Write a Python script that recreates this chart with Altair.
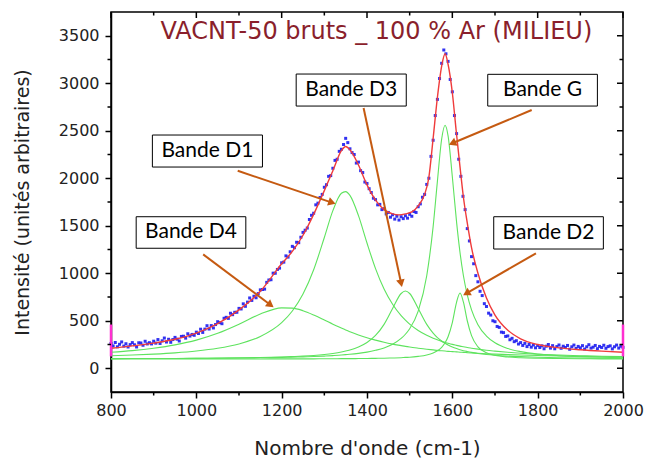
import altair as alt
import pandas as pd

# ---------------- data ----------------
# fitted Lorentzian components (total incl. baseline), on a common wavenumber grid
comp_x = [800, 850, 900, 950, 1000, 1050, 1100, 1150, 1200,
          1225, 1250, 1275, 1300, 1320, 1340, 1350, 1360,
          1380, 1400, 1420, 1440, 1460, 1480, 1490, 1500,
          1520, 1540, 1555, 1565, 1575, 1583, 1590, 1600, 1610, 1618, 1626, 1635, 1645, 1660,
          1680, 1700, 1730, 1760, 1800, 1850, 1900, 1950, 2000]
band_d4 = [169, 186, 211, 246, 296, 368, 464, 571, 636,
           633, 606, 561, 508, 464, 423, 403, 385,
           351, 321, 296, 273, 254, 238, 230, 223,
           211, 200, 193, 188, 184, 181, 178, 175, 172, 169, 167, 164, 161, 158,
           153, 149, 144, 139, 134, 129, 125, 121, 118]
band_d1 = [132, 139, 149, 162, 181, 210, 256, 334, 480,
           603, 781, 1037, 1376, 1659, 1842, 1859, 1819,
           1606, 1318, 1049, 834, 673, 553, 506, 464,
           398, 347, 316, 299, 283, 272, 263, 251, 241, 233, 226, 218, 211, 201,
           189, 180, 168, 158, 148, 139, 132, 126, 122]
band_d3 = [101, 102, 102, 103, 105, 107, 109, 113, 119,
           123, 128, 135, 145, 156, 171, 181, 193,
           224, 271, 345, 462, 629, 787, 813, 787,
           629, 462, 370, 323, 287, 263, 245, 224, 207, 195, 185, 176, 167, 156,
           145, 137, 128, 122, 116, 111, 108, 106, 104]
band_g = [101, 102, 102, 103, 104, 106, 108, 110, 114,
          117, 120, 123, 128, 133, 139, 143, 147,
          157, 170, 189, 214, 253, 314, 358, 416,
          602, 974, 1491, 1967, 2413, 2558, 2446, 2016, 1535, 1218, 974, 773, 615, 459,
          339, 268, 208, 175, 149, 132, 122, 116, 111]
band_d2 = [97, 97, 98, 98, 98, 98, 98, 98, 99,
           99, 99, 99, 100, 100, 101, 101, 101,
           102, 103, 104, 106, 108, 111, 114, 116,
           125, 140, 161, 184, 221, 268, 332, 481, 696, 792, 696, 500, 343, 225,
           163, 136, 118, 110, 105, 102, 100, 99, 99]

# cumulative fit (red)
red_x = [800, 850, 900, 950, 1000, 1050, 1100, 1150, 1200,
         1225, 1250, 1275, 1300, 1320, 1340, 1350, 1360,
         1380, 1400, 1420, 1440, 1460, 1475, 1490, 1505, 1520,
         1535, 1545, 1555, 1565, 1575, 1583, 1590, 1600, 1609, 1618, 1626, 1635, 1645, 1660,
         1680, 1700, 1730, 1760, 1800, 1850, 1900, 1950, 2000]
red_y = [210, 235, 265, 305, 370, 470, 615, 810, 1100,
         1230, 1400, 1620, 1870, 2080, 2290, 2335, 2300,
         2140, 1930, 1770, 1670, 1625, 1615, 1625, 1645, 1710,
         1830, 2010, 2420, 2850, 3180, 3310, 3200, 2900, 2500, 2120, 1800, 1530, 1270, 1000,
         740, 560, 400, 310, 250, 215, 195, 180, 168]

# measured spectrum (blue), every 5 cm-1 from 800 to 2000
blue_y = [
    260, 235, 271, 226, 252, 277, 233, 258, 224, 249,
    270, 247, 224, 268, 266, 242, 284, 256, 269, 256,
    285, 264, 302, 261, 289, 318, 276, 305, 273, 302,
    325, 306, 287, 335, 337, 317, 363, 339, 356, 347,
    380, 366, 411, 377, 412, 448, 413, 449, 424, 460,
    490, 480, 469, 526, 536, 525, 579, 564, 589, 589,
    630, 624, 678, 652, 696, 740, 714, 758, 742, 786,
    825, 829, 833, 904, 929, 932, 1001, 1000, 1040, 1054,
    1110, 1117, 1183, 1170, 1226, 1283, 1269, 1326, 1322, 1379,
    1430, 1453, 1476, 1566, 1610, 1632, 1720, 1738, 1797, 1830,
    1905, 1932, 2020, 2028, 2105, 2188, 2200, 2283, 2305, 2355,
    2420, 2375, 2310, 2270, 2250, 2160, 2170, 2080, 2060, 1960,
    1945, 1890, 1850, 1790, 1775, 1720, 1725, 1670, 1680, 1625,
    1640, 1590, 1615, 1570, 1600, 1560, 1595, 1575, 1605, 1580,
    1620, 1600, 1650, 1640, 1700, 1730, 1800, 1830, 1935, 2000,
    2230, 2400, 2660, 2830, 3050, 3210, 3350, 3310, 3230, 3040,
    2910, 2660, 2470, 2200, 2020, 1810, 1670, 1470, 1340, 1175,
    1100, 975, 910, 810, 765, 680, 650, 580, 560, 500,
    490, 440, 430, 380, 375, 335, 340, 300, 315, 280,
    290, 255, 270, 240, 262, 228, 250, 222, 245, 215,
    240, 218, 236, 205, 232, 250, 212, 238, 205, 228,
    245, 210, 232, 218, 240, 200, 226, 244, 208, 230,
    215, 238, 202, 226, 248, 212, 222, 240, 206, 230,
    218, 242, 210, 228, 236, 204, 226, 244, 212, 232,
    220]
blue_x = list(range(800, 2001, 5))

# axis ticks
x_major = [800, 1000, 1200, 1400, 1600, 1800, 2000]
x_minor = [900, 1100, 1300, 1500, 1700, 1900]
y_major = [0, 500, 1000, 1500, 2000, 2500, 3000, 3500]
y_minor = [250, 750, 1250, 1750, 2250, 2750, 3250]

# magenta cursor markers at both ends
marker_x = [800, 2000]
marker_y1 = [125, 125]
marker_y2 = [460, 460]

# annotations
box_labels = ["Bande D3", "Bande G", "Bande D1", "Bande D4", "Bande D2"]
box_x1 = [1234, 1683, 897, 859, 1697]
box_x2 = [1492, 1940, 1155, 1116, 1954]
box_y1 = [2760, 2760, 2118, 1263, 1255]
box_y2 = [3097, 3094, 2455, 1595, 1595]
arrow_x1 = [1392, 1786, 1097, 1016, 1796]
arrow_y1 = [2739, 2718, 2079, 1199, 1210]
arrow_x2 = [1480, 1600, 1318, 1174, 1633]
arrow_y2 = [894, 2368, 1743, 666, 789]
arrow_angle = [167.8, 247.4, 108.6, 126.6, 240.4]

title_text = "VACNT-50 bruts _ 100 % Ar (MILIEU)"
title_pos = (1422, 3539)

# ---------------- tables ----------------
rows = []
for name, vals in zip(["D4", "D1", "D3", "G", "D2"], [band_d4, band_d1, band_d3, band_g, band_d2]):
    for xv, yv in zip(comp_x, vals):
        rows.append({"x": xv, "y": yv, "band": name})
comp_df = pd.DataFrame(rows)
red_df = pd.DataFrame({"x": red_x, "y": red_y})
blue_df = pd.DataFrame({"x": blue_x, "y": blue_y})
marker_df = pd.DataFrame({"x": marker_x, "y": marker_y1, "y2": marker_y2})
box_df = pd.DataFrame({"label": box_labels, "x": box_x1, "x2": box_x2, "y": box_y1, "y2": box_y2,
                       "tx": [(a + b) / 2 for a, b in zip(box_x1, box_x2)],
                       "ty": [(a + b) / 2 for a, b in zip(box_y1, box_y2)]})
arrow_df = pd.DataFrame({"x": arrow_x1, "y": arrow_y1, "x2": arrow_x2, "y2": arrow_y2, "ang": arrow_angle})
title_df = pd.DataFrame({"x": [title_pos[0]], "y": [title_pos[1]], "t": [title_text]})

# ---------------- scales / axes ----------------
W, H = 512, 380
xs = alt.Scale(domain=[800, 2000], nice=False, zero=False)
ys = alt.Scale(domain=[-250, 3750], nice=False, zero=False)
FONT = "DejaVu Sans"
x_axis = alt.Axis(values=x_major, title="Nombre d'onde (cm-1)", format="d", grid=False,
                  tickSize=6, tickWidth=1.5, tickColor="black", domainColor="black", domainWidth=1.5,
                  labelFont=FONT, labelFontSize=16, labelColor="#222222", labelPadding=4,
                  labelFlush=False, labelOverlap=False,
                  titleFont=FONT, titleFontSize=20, titleFontWeight="normal", titleColor="#222222",
                  titlePadding=20)
y_axis = alt.Axis(values=y_major, title="Intensité (unités arbitraires)", format="d", grid=False,
                  tickSize=6, tickWidth=1.5, tickColor="black", domainColor="black", domainWidth=1.5,
                  labelFont=FONT, labelFontSize=16, labelColor="#222222", labelPadding=6,
                  labelFlush=False, labelOverlap=False,
                  titleFont=FONT, titleFontSize=19, titleFontWeight="normal", titleColor="#222222",
                  titlePadding=26)
X = alt.X("x:Q", scale=xs, axis=x_axis)
Y = alt.Y("y:Q", scale=ys, axis=y_axis)

green = alt.Chart(comp_df).mark_line(color="#5ee35e", strokeWidth=1.1, interpolate="monotone").encode(
    x=X, y=Y, detail="band:N")
blue = alt.Chart(blue_df).mark_square(size=9, color="#1c1cf0", opacity=0.9).encode(x=X, y=Y)
red = alt.Chart(red_df).mark_line(color="#ef3b3b", strokeWidth=1.4, interpolate="monotone").encode(x=X, y=Y)
markers = alt.Chart(marker_df).mark_rule(color="#ff2fd0", strokeWidth=2.5).encode(x=X, y=Y, y2="y2:Q")

xmaj_df = pd.DataFrame({"x": x_major})
xmin_df = pd.DataFrame({"x": x_minor})
ymaj_df = pd.DataFrame({"y": y_major})
ymin_df = pd.DataFrame({"y": y_minor})
tick_style = dict(color="black", strokeWidth=1.5)
ticks = [
    alt.Chart(xmin_df).mark_rule(**tick_style).encode(x=X, y=alt.value(H), y2=alt.value(H + 3.5)),
    alt.Chart(xmaj_df).mark_rule(**tick_style).encode(x=X, y=alt.value(0), y2=alt.value(6)),
    alt.Chart(xmin_df).mark_rule(**tick_style).encode(x=X, y=alt.value(0), y2=alt.value(3.5)),
    alt.Chart(ymin_df).mark_rule(**tick_style).encode(y=Y, x=alt.value(0), x2=alt.value(-3.5)),
    alt.Chart(ymaj_df).mark_rule(**tick_style).encode(y=Y, x=alt.value(W), x2=alt.value(W - 6)),
    alt.Chart(ymin_df).mark_rule(**tick_style).encode(y=Y, x=alt.value(W), x2=alt.value(W - 3.5)),
]

arrows = alt.Chart(arrow_df).mark_rule(color="#c55a11", strokeWidth=2).encode(
    x=X, y=Y, x2="x2:Q", y2="y2:Q")
heads = alt.Chart(arrow_df).mark_point(shape="triangle-up", filled=True, size=75, color="#c55a11",
                                       opacity=1).encode(
    x=alt.X("x2:Q", scale=xs, axis=x_axis), y=alt.Y("y2:Q", scale=ys, axis=y_axis),
    angle=alt.Angle("ang:Q", scale=None))
boxes = alt.Chart(box_df).mark_rect(fill="white", stroke="black", strokeWidth=1).encode(
    x=X, x2="x2:Q", y=Y, y2="y2:Q")
box_text = alt.Chart(box_df).mark_text(font="Lato", fontSize=21, color="black",
                                       baseline="middle", align="center").encode(
    x=alt.X("tx:Q", scale=xs, axis=x_axis), y=alt.Y("ty:Q", scale=ys, axis=y_axis), text="label:N")
title = alt.Chart(title_df).mark_text(font=FONT, fontSize=24, color="#8a1f2c",
                                      baseline="middle", align="center").encode(
    x=X, y=Y, text="t:N")

chart = alt.layer(green, blue, red, markers, *ticks, arrows, heads, boxes, box_text, title).properties(
    width=W, height=H, autosize="none",
    padding={"left": 103, "top": 4, "right": 21, "bottom": 72},
).configure_view(stroke="black", strokeWidth=1.5)

chart.save("out.html", embed_options={"renderer": "svg", "actions": False})
